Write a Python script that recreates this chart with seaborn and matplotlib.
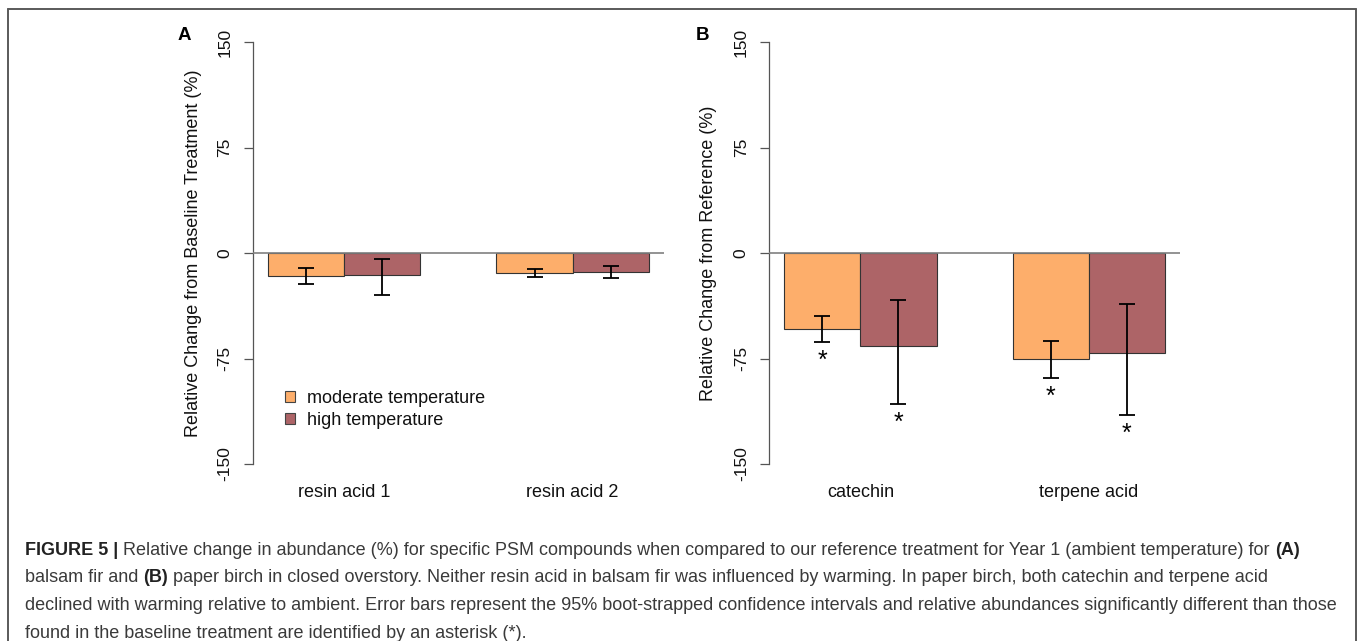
import numpy as np
import pandas as pd
import matplotlib
matplotlib.use("Agg")
import matplotlib.pyplot as plt
from matplotlib.patches import Patch
from matplotlib.lines import Line2D
import seaborn as sns

# ---------------- data ----------------
treatments = ["moderate temperature", "high temperature"]
colors = ["#FDAE6B", "#AD6467"]

compounds_a = ["resin acid 1", "resin acid 2"]
mean_a_mod = [-16.1, -14.2]
mean_a_high = [-15.6, -13.7]
ci_lo_a_mod = [-22.0, -16.8]
ci_hi_a_mod = [-10.4, -11.6]
ci_lo_a_high = [-29.6, -17.5]
ci_hi_a_high = [-4.5, -9.0]
sig_a_mod = [False, False]
sig_a_high = [False, False]

compounds_b = ["catechin", "terpene acid"]
mean_b_mod = [-54.3, -75.6]
mean_b_high = [-66.3, -71.3]
ci_lo_b_mod = [-63.5, -88.6]
ci_hi_b_mod = [-44.8, -62.8]
ci_lo_b_high = [-107.1, -115.2]
ci_hi_b_high = [-33.6, -36.0]
sig_b_mod = [True, True]
sig_b_high = [True, True]

yticks = [-150, -75, 0, 75, 150]
ylabel_a = "Relative Change from Baseline Treatment (%)"
ylabel_b = "Relative Change from Reference (%)"
panel_labels = ["A", "B"]

caption_lines = [
    [("FIGURE 5 |", True),
     ("Relative change in abundance (%) for specific PSM compounds when compared to our reference treatment for Year 1 (ambient temperature) for", False),
     ("(A)", True)],
    [("balsam fir and", False), ("(B)", True),
     ("paper birch in closed overstory. Neither resin acid in balsam fir was influenced by warming. In paper birch, both catechin and terpene acid", False)],
    [("declined with warming relative to ambient. Error bars represent the 95% boot-strapped confidence intervals and relative abundances significantly different than those", False)],
    [("found in the baseline treatment are identified by an asterisk (*).", False)],
]

# ---------------- style ----------------
sns.set_theme(style="white")
plt.rcParams["font.family"] = ["Liberation Sans", "DejaVu Sans"]

W, H = 1358, 641
fig = plt.figure(figsize=(W / 100, H / 100), dpi=100)
fig.patch.set_facecolor("white")

def px(x, y):
    return x / W, 1 - y / H

bottom = 1 - 480.88 / H
height = 455.76 / H
ax_a = fig.add_axes([252.7 / W, bottom, 411.4 / W, height])
ax_b = fig.add_axes([769.0 / W, bottom, 411.2 / W, height])


def make_df(comps, m_mod, m_high, lo_mod, lo_high, hi_mod, hi_high, s_mod, s_high):
    rows = []
    for i, c in enumerate(comps):
        rows.append((c, treatments[0], m_mod[i], lo_mod[i], hi_mod[i], s_mod[i]))
        rows.append((c, treatments[1], m_high[i], lo_high[i], hi_high[i], s_high[i]))
    return pd.DataFrame(rows, columns=["compound", "treatment", "value", "lo", "hi", "sig"])


df_a = make_df(compounds_a, mean_a_mod, mean_a_high, ci_lo_a_mod, ci_lo_a_high,
               ci_hi_a_mod, ci_hi_a_high, sig_a_mod, sig_a_high)
df_b = make_df(compounds_b, mean_b_mod, mean_b_high, ci_lo_b_mod, ci_lo_b_high,
               ci_hi_b_mod, ci_hi_b_high, sig_b_mod, sig_b_high)


def draw_panel(ax, df, ylabel, label_x):
    sns.barplot(data=df, x="compound", y="value", hue="treatment",
                hue_order=treatments, palette=colors, width=2 / 3,
                errorbar=None, saturation=1, edgecolor="#333333",
                linewidth=0.8, legend=False, ax=ax, zorder=2)
    bars = sorted(ax.patches, key=lambda p: p.get_x())
    xs = np.array([p.get_x() + p.get_width() / 2 for p in bars])
    vals = df["value"].to_numpy()
    lo = df["lo"].to_numpy()
    hi = df["hi"].to_numpy()
    ax.errorbar(xs, vals, yerr=[vals - lo, hi - vals], fmt="none",
                ecolor="black", elinewidth=1.3, capsize=5.5, capthick=1.3,
                zorder=4)
    for x, l, s in zip(xs, lo, df["sig"]):
        if s:
            ax.text(x, l - 18.5, "*", ha="center", va="baseline",
                    fontsize=18, color="black", zorder=5)
    ax.axhline(0, color="#808080", lw=1.2, zorder=3)
    ax.set_xlim(-0.4, 1.4)
    ax.set_ylim(-162, 162)
    ax.set_yticks(yticks)
    ax.set_yticklabels([str(t) for t in yticks], rotation=90, va="center",
                       fontsize=12.5, color="#111111")
    ax.set_xlabel("")
    ax.set_ylabel(ylabel, fontsize=13, color="#111111")
    ax.yaxis.label.set_verticalalignment("center")
    ax.yaxis.set_label_coords(label_x, 0.5)
    for s in ["top", "right", "bottom"]:
        ax.spines[s].set_visible(False)
    ax.spines["left"].set_bounds(-150, 150)
    ax.spines["left"].set_color("#555555")
    ax.spines["left"].set_linewidth(0.9)
    ax.tick_params(axis="y", length=6.5, width=0.9, color="#555555", pad=8,
                   left=True)
    ax.tick_params(axis="x", length=0, pad=2, labelsize=13,
                   labelcolor="#111111")
    ax.set_facecolor("none")
    ax.grid(False)


draw_panel(ax_a, df_a, ylabel_a, -0.1440)
draw_panel(ax_b, df_b, ylabel_b, -0.1480)

# panel letters
for lab, xp in zip(panel_labels, [184, 702.5]):
    fig.text(*px(xp, 35), lab, ha="center", va="center", fontsize=13.5,
             fontweight="bold", color="black")

# legend
handles = [Patch(facecolor=c, edgecolor="#444444", linewidth=0.8) for c in colors]
fig.legend(handles, treatments, loc="center left",
           bbox_to_anchor=px(285, 409.5), frameon=False, fontsize=13,
           handlelength=0.55, handleheight=0.55, handletextpad=0.65,
           labelspacing=0.3, borderpad=0, borderaxespad=0,
           labelcolor="#111111")

# border
border_kw = dict(color="#5a5a5a", lw=1.4, transform=fig.transFigure)
fig.add_artist(Line2D([8 / W, 1355.5 / W], [1 - 9 / H, 1 - 9 / H], **border_kw))
fig.add_artist(Line2D([8 / W, 8 / W], [1 - 9 / H, 0], **border_kw))
fig.add_artist(Line2D([1355.5 / W, 1355.5 / W], [1 - 9 / H, 0], **border_kw))

# caption
renderer = fig.canvas.get_renderer()
cap_font = ["Liberation Sans", "DejaVu Sans"]


def seg_width(s, bold, size):
    t = fig.text(0, 0, s, fontsize=size, fontweight="bold" if bold else "normal",
                 family=cap_font)
    w = t.get_window_extent(renderer).width
    t.remove()
    return w


def space_width(size):
    return seg_width("|| |", False, size) - seg_width("|||", False, size)


def line_width(line, size):
    tot = 0
    for i, (s, b) in enumerate(line):
        tot += seg_width(s, b, size)
        if i < len(line) - 1:
            tot += space_width(size)
    return tot


base = 10
cap_size = base * (1278 / line_width(caption_lines[0], base))
cap_y = [548.3, 576.0, 603.5, 631.0]
for line, yy in zip(caption_lines, cap_y):
    x = 25.0
    for i, (s, b) in enumerate(line):
        fig.text(x / W, 1 - yy / H, s, fontsize=cap_size,
                 fontweight="bold" if b else "normal", family=cap_font,
                 ha="left", va="center_baseline",
                 color="#222222" if b else "#3a3a3a")
        x += seg_width(s, b, cap_size)
        if i < len(line) - 1:
            x += space_width(cap_size)

fig.savefig("out.png", dpi=100)
